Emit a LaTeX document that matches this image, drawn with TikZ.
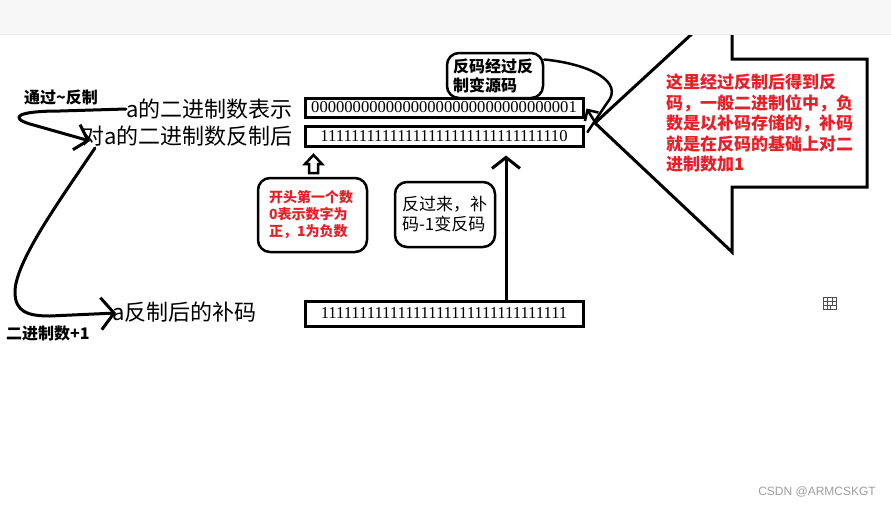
\documentclass[tikz,border=0pt]{standalone}
\usepackage{fontspec}
\setmainfont{Liberation Serif}
\newfontfamily\cjk{Noto Sans CJK SC}
\newfontfamily\wmfont{Liberation Sans}
\usetikzlibrary{arrows.meta,calc}
\definecolor{myred}{RGB}{232,30,40}
\definecolor{bandgray}{RGB}{247,247,247}
\begin{document}
\begin{tikzpicture}[x=1pt,y=-1pt,
  bitbox/.style={draw,line width=3pt,minimum width=278pt,inner sep=0pt,font=\fontsize{16.6}{18}\selectfont},
  lbl/.style={anchor=west,inner sep=0pt,font=\cjk\fontsize{22}{24}\selectfont},
  smalllbl/.style={anchor=west,inner sep=0pt,font=\cjk\bfseries\fontsize{16}{18}\selectfont},
  bubble/.style={draw,line width=2.5pt,rounded corners=12pt,inner sep=0pt,align=left},
  conn/.style={line width=3pt,line cap=round,line join=round}
]
\useasboundingbox (0,0) rectangle (891,507);
\fill[white] (0,0) rectangle (891,507);

% big left-pointing block arrow
\draw[line width=3pt,line join=miter] (595,123) -- (732,-3) -- (732,59) -- (867,59) -- (867,187) -- (732,187) -- (732,252) -- cycle;
\node[anchor=north west,align=left,inner sep=0pt,text=myred,font=\cjk\bfseries\fontsize{17}{20.5}\selectfont] (note) at (666,74)
 {这里经过反制后得到反\\码，一般二进制位中，负\\数是以补码存储的，补码\\就是在反码的基础上对二\\进制数加1};

% bit boxes
\node[bitbox,minimum height=19pt] (box1) at (444,107.5) {00000000000000000000000000000001};
\node[bitbox,minimum height=20pt] (box2) at (444,136) {11111111111111111111111111111110};
\node[bitbox,minimum height=25pt] (box3) at (444,313.5) {11111111111111111111111111111111};

% labels
\node[lbl] (l1) at (126,109) {a的二进制数表示};
\node[lbl] (l2) at (82,136) {对a的二进制数反制后};
\node[lbl] (l3) at (112,312) {a反制后的补码};
\node[smalllbl] (t1) at (24,97) {通过\textasciitilde 反制};
\node[smalllbl] (t2) at (6,333) {二进制数+1};

% bubbles
\node[bubble,minimum width=109pt,minimum height=74pt,text width=87pt,text=myred,
  font=\cjk\bfseries\fontsize{14}{17}\selectfont] (n1) at (312.5,215) {开头第一个数\\0表示数字为\\正，1为负数};
\node[bubble,minimum width=100pt,minimum height=65pt,text width=86pt,
  font=\cjk\fontsize{17}{20}\selectfont] (n2) at (445,214.5) {反过来，补\\码-1变反码};
\node[bubble,minimum width=96pt,minimum height=45pt,text width=84pt,
  font=\cjk\bfseries\fontsize{16}{19}\selectfont] (n3) at (495,75.5) {反码经过反\\制变源码};

% left connectors
\draw[conn,-{Straight Barb[length=12pt,width=26pt]}] (l1.west) -- (60,111) .. controls (15,111) and (10,118) .. (30,124) -- ($(l2.west)+(8,5)$);
\draw[conn,-{Straight Barb[length=13pt,width=32pt]}] ($(l2.west)+(13,12)$) .. controls (60,200) and (15,262) .. (15,292) .. controls (15,312) and (28,316) .. (50,316) -- ($(l3.west)+(4,1)$);

% vertical arrow from box3 to box2
\coordinate (v) at (506,0);
\draw[conn,-{Straight Barb[length=11pt,width=28pt]}] (box3.north -| v) -- ($(box2.south -| v)+(0,8)$);

% hollow up arrow under box2
\draw[line width=2.5pt,line join=miter] (309,173) -- (309,164) -- (305,164) -- (313.5,155) -- (322,164) -- (318,164) -- (318,173) -- cycle;

% curve from n3 to box ends
\draw[line width=2.5pt,line cap=round] ($(n3.east)+(0,-16)$) .. controls (590,64) and (625,82) .. (607,103) -- ($(box2.east)+(3,-4)$);
\draw[line width=2.5pt,-{Straight Barb[length=8pt,width=16pt]}] (595,122) -- ($(box1.east)+(2,1)$);

% icon
\draw[gray!60!black,line width=1pt] (823,297) rectangle (836,309);
\draw[gray!60!black,line width=1pt] (823,301) -- (836,301) (823,305) -- (836,305) (827.5,297) -- (827.5,309) (832,297) -- (832,305) (830,305) -- (830,309);

% watermark
\node[anchor=east,inner sep=0pt,text=gray!75,font=\wmfont\fontsize{12}{14}\selectfont] (wm) at (876,492) {CSDN @ARMCSKGT};

% top band
\fill[bandgray] (0,-10) rectangle (891,33.5);
\draw[line width=0.8pt,color=black!8] (0,34) -- (891,34);
\end{tikzpicture}
\end{document}
